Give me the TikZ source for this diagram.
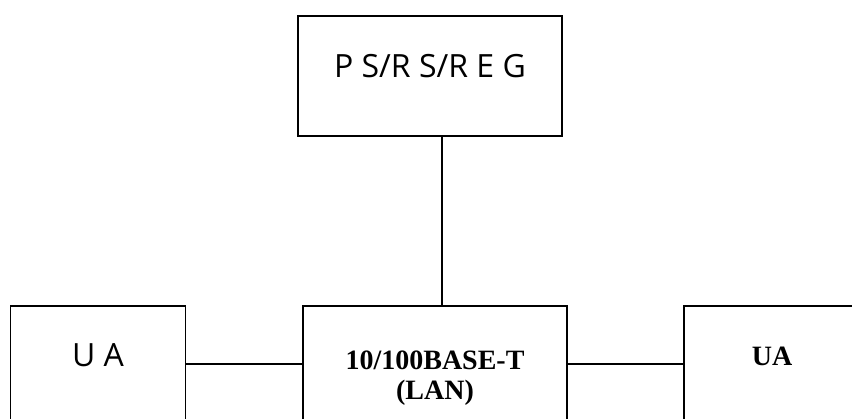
\documentclass[tikz,border=0pt]{standalone}
\usepackage{fontspec}
\setmainfont{Liberation Serif}
\newfontfamily\labelsans{Open Sans}
\usetikzlibrary{calc}

\begin{document}
\begin{tikzpicture}[x=1pt,y=-1pt,line width=1.5pt,
		box/.style={draw,rectangle,inner sep=0pt},
		sanslbl/.style={font=\labelsans\fontsize{32}{34}\selectfont},
		seriflbl/.style={font=\bfseries\fontsize{28}{30}\selectfont,align=center}]
				% page size of the reference
				\useasboundingbox (0,0) rectangle (852,418);
				\clip (0,0) rectangle (852,418);
				
				% top box
				\node[box,minimum width=264,minimum height=120] (reg) at (430,76) {};
				\node[sanslbl] (regtxt) at (430,66) {P S/R S/R E G};
				
				% bottom row, boxes run past the lower edge
				\node[box,minimum width=175,minimum height=140,anchor=north] (ualeft) at (98,305) {};
				\node[box,minimum width=264,minimum height=140,anchor=north] (lan) at (435,305) {};
				\node[box,minimum width=176,minimum height=140,anchor=north] (uaright) at (772,305) {};
				
				% texts in the bottom boxes
				\node[sanslbl] (uatxt) at (98,355) {U A};
				\node[seriflbl] (lantxt) at (435,378) {10/100BASE-T\\(LAN)};
				\node[seriflbl] (uartxt) at (772,356) {UA};
				
				% connectors
				\coordinate (regs) at ($(reg.south)+(12,0)$);
				\coordinate (lanw) at (lan.west |- 0,364);
				\coordinate (lane) at (lan.east |- 0,364);
				\draw (regs) -- (regs |- lan.north);
				\draw (ualeft.east |- lanw) -- (lanw);
				\draw (lane) -- (uaright.west |- lane);
				
\end{tikzpicture}
\end{document}
